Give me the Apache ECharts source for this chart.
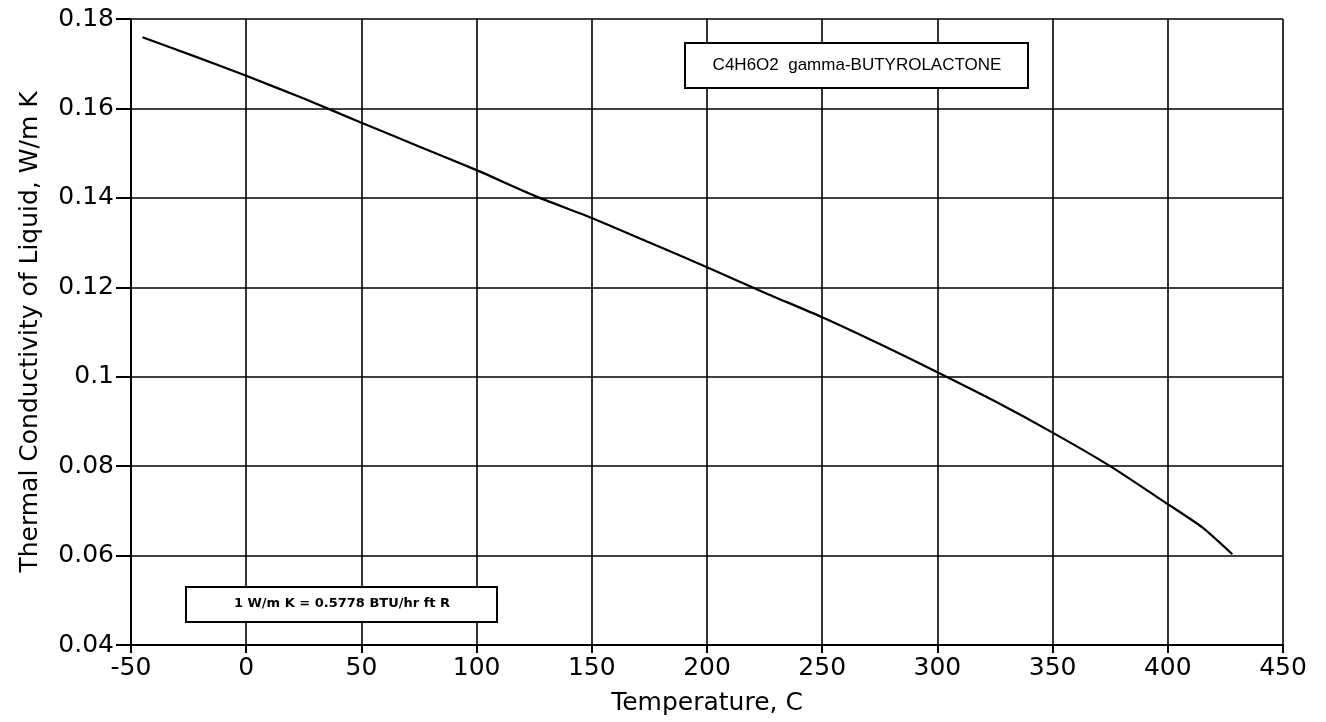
<!DOCTYPE html>
<html><head><meta charset="utf-8">
<script src="https://cdn.jsdelivr.net/npm/echarts@6/dist/echarts.min.js"></script>
<style>html,body{margin:0;padding:0;background:#fff}#c{width:1326px;height:722px}</style>
</head><body><div id="c"></div>
<script>
const temps = [-45, -20, 0, 25, 50, 75, 100, 125, 150, 175, 200, 225, 250, 275, 300, 325, 350, 375, 400, 415, 428];
const conductivity = [0.1759, 0.1712, 0.1673, 0.1622, 0.1568, 0.1515, 0.1462, 0.1405, 0.1355, 0.1300, 0.1245, 0.1188, 0.1133, 0.1073, 0.1010, 0.0945, 0.0875, 0.0800, 0.0715, 0.0663, 0.0603];
const titleText = 'C4H6O2  gamma-BUTYROLACTONE';
const noteText = '1 W/m K = 0.5778 BTU/hr ft R';
const xName = 'Temperature, C';
const yName = 'Thermal Conductivity of Liquid, W/m K';

const chart = echarts.init(document.getElementById('c'));
const font = '"DejaVu Sans", "Liberation Sans", Arial, sans-serif';
const lib = '"Liberation Sans", Arial, sans-serif';
chart.setOption({
  animation: false,
  grid: {left: 131, right: 43, top: 19, bottom: 77},
  xAxis: {
    type: 'value', min: -50, max: 450, interval: 50,
    name: xName, nameLocation: 'middle', nameGap: 46,
    nameTextStyle: {fontFamily: font, fontSize: 25, color: '#000'},
    axisLine: {show: true, onZero: false, lineStyle: {color: '#000', width: 2}},
    axisTick: {show: true, length: 8, lineStyle: {color: '#000', width: 2}},
    axisLabel: {fontFamily: font, fontSize: 25, color: '#000', margin: 11},
    splitLine: {show: true, lineStyle: {color: '#000', width: 1.6}}
  },
  yAxis: {
    type: 'value', min: 0.04, max: 0.18, interval: 0.02,
    name: yName, nameLocation: 'middle', nameGap: 88, nameRotate: 90,
    nameTextStyle: {fontFamily: font, fontSize: 25, color: '#000'},
    axisLine: {show: true, onZero: false, lineStyle: {color: '#000', width: 2}},
    axisTick: {show: true, length: 15, lineStyle: {color: '#000', width: 2}},
    axisLabel: {fontFamily: font, fontSize: 25, color: '#000', margin: 17,
      formatter: v => String(parseFloat(v.toFixed(2)))},
    splitLine: {show: true, lineStyle: {color: '#000', width: 1.6}}
  },
  series: [{
    type: 'line', data: temps.map((t, i) => [t, conductivity[i]]),
    smooth: 0.2, showSymbol: false,
    lineStyle: {color: '#000', width: 2.2}
  }],
  graphic: [
    {type: 'rect', shape: {x: 685, y: 43, width: 343, height: 45},
     style: {fill: '#fff', stroke: '#000', lineWidth: 2}, z: 100},
    {type: 'text',
     style: {text: titleText, font: '17px ' + lib, fill: '#000', x: 857, y: 65, align: 'center', verticalAlign: 'middle'}, z: 101},
    {type: 'rect', shape: {x: 186, y: 587, width: 311, height: 35},
     style: {fill: '#fff', stroke: '#000', lineWidth: 2}, z: 100},
    {type: 'text',
     style: {text: noteText, font: 'bold 13px ' + font, fill: '#000', x: 342, y: 604, align: 'center', verticalAlign: 'middle'}, z: 101}
  ]
});
</script></body></html>
